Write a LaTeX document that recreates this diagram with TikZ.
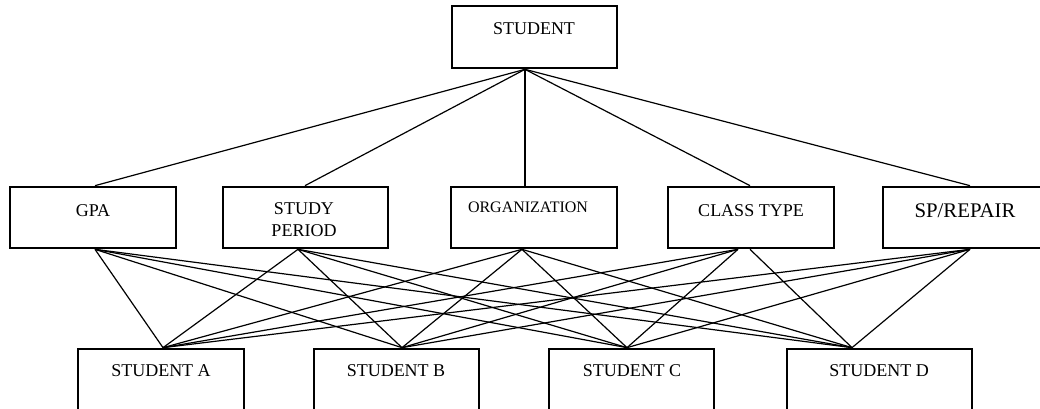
\documentclass[tikz,border=0pt]{standalone}
\usepackage{fontspec}
\setmainfont{Liberation Serif}
\usetikzlibrary{fit}
\begin{document}
\begin{tikzpicture}[x=0.75pt,y=-0.75pt,
  box/.style={draw,line width=2pt,inner sep=0pt},
  conn/.style={line width=0.9pt},
  lbl/.style={anchor=base,inner sep=0pt,align=center,font=\fontsize{13.5}{16.5}\selectfont}]
\useasboundingbox (0,0) rectangle (1040,409);
\clip (0,0) rectangle (1040,409);
% boxes
\node[box,fit={(452,6) (617,68)}] (root) {};
\node[box,fit={(10,187) (176,248)}] (gpa) {};
\node[box,fit={(223,187) (388,248)}] (sp) {};
\node[box,fit={(451,187) (617,248)}] (org) {};
\node[box,fit={(668,187) (834,248)}] (ct) {};
\node[box,fit={(883,187) (1046,248)}] (spr) {};
\node[box,fit={(78,349) (244,420)}] (sa) {};
\node[box,fit={(314,349) (479,420)}] (sb) {};
\node[box,fit={(549,349) (714,420)}] (sc) {};
\node[box,fit={(787,349) (972,420)}] (sd) {};
% labels
\node[lbl] (rootT) at (534,35) {STUDENT};
\node[lbl] (gpaL) at (93,217) {GPA};
\node[lbl,anchor=north] (spL) at (304,202) {STUDY\\PERIOD};
\node[lbl,font=\fontsize{12}{14}\selectfont] (orgL) at (528,213) {ORGANIZATION};
\node[lbl] (ctL) at (751,217) {CLASS TYPE};
\node[lbl,font=\fontsize{15.6}{18}\selectfont] (sprL) at (965,218) {SP/REPAIR};
\node[lbl] (saL) at (161,377) {STUDENT A};
\node[lbl] (sbL) at (396,377) {STUDENT B};
\node[lbl] (scL) at (632,377) {STUDENT C};
\node[lbl] (sdL) at (879,377) {STUDENT D};
% connection points
\coordinate (rootB) at (root.south -| 525,0);
\coordinate (gpaT) at (gpa.north -| 95,0);
\coordinate (spT) at (sp.north -| 305,0);
\coordinate (orgT) at (org.north -| 525,0);
\coordinate (ctT) at (ct.north -| 750,0);
\coordinate (sprT) at (spr.north -| 970,0);
\coordinate (gpaB) at (gpa.south -| 95,0);
\coordinate (spB) at (sp.south -| 298,0);
\coordinate (orgB) at (org.south -| 522,0);
\coordinate (ctB) at (ct.south -| 738,0);
\coordinate (ctB2) at (ct.south -| 750,0);
\coordinate (sprB) at (spr.south -| 970,0);
\coordinate (saT) at (sa.north -| 163,0);
\coordinate (sbT) at (sb.north -| 402,0);
\coordinate (scT) at (sc.north -| 627,0);
\coordinate (sdT) at (sd.north -| 852,0);
% connectors
\foreach \m in {gpaT,spT,orgT,ctT,sprT} \draw[conn] (rootB) -- (\m);
\foreach \m in {gpaB,spB,orgB,sprB}
  \foreach \s in {saT,sbT,scT,sdT} \draw[conn] (\m) -- (\s);
\foreach \s in {saT,sbT,scT} \draw[conn] (ctB) -- (\s);
\draw[conn] (ctB2) -- (sdT);
\end{tikzpicture}
\end{document}
